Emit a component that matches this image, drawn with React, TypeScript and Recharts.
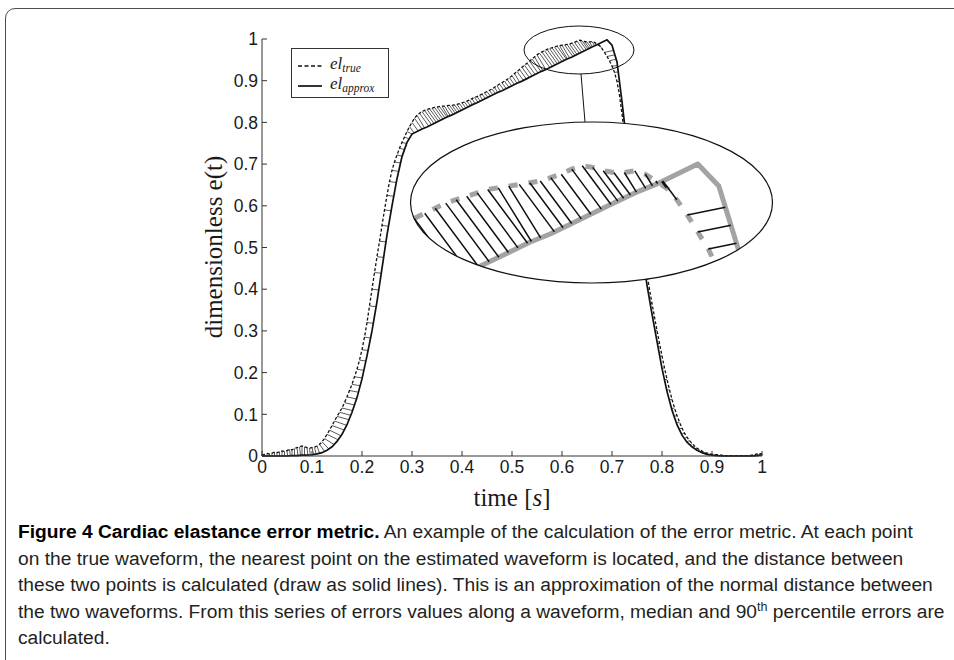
import React from "react";
import { LineChart, Line, XAxis, YAxis, Legend, Label } from "recharts";

// ==================== DATA ====================

// true elastance waveform, sampled every 0.005 s from 0 to 1
const TRUE_STEP = 0.005;
const EL_TRUE = [
  // 0.000 - 0.100
  0.003, 0.004, 0.006, 0.005, 0.007, 0.009, 0.008, 0.01, 0.012, 0.011, 0.013,
  0.016, 0.015, 0.018, 0.02, 0.022, 0.024, 0.022, 0.02, 0.019, 0.02,
  // 0.105 - 0.300
  0.021, 0.024, 0.028, 0.034, 0.042, 0.052, 0.062, 0.073, 0.084, 0.095,
  0.105, 0.115, 0.128, 0.142, 0.157, 0.172, 0.19, 0.208, 0.23, 0.255,
  0.285, 0.32, 0.36, 0.4, 0.44, 0.478, 0.515, 0.553, 0.59, 0.625,
  0.658, 0.685, 0.705, 0.722, 0.738, 0.752, 0.765, 0.778, 0.79, 0.8,
  // 0.305 - 0.700
  0.81, 0.817, 0.822, 0.826, 0.829, 0.831, 0.833, 0.834, 0.836, 0.837,
  0.838, 0.839, 0.839, 0.84, 0.841, 0.841, 0.842, 0.843, 0.845, 0.847,
  0.849, 0.851, 0.854, 0.857, 0.86, 0.862, 0.865, 0.868, 0.871, 0.874,
  0.877, 0.88, 0.884, 0.888, 0.892, 0.895, 0.899, 0.903, 0.907, 0.912,
  0.917, 0.922, 0.927, 0.932, 0.937, 0.942, 0.947, 0.952, 0.957, 0.962,
  0.966, 0.969, 0.972, 0.975, 0.977, 0.979, 0.981, 0.983, 0.984, 0.985,
  0.986, 0.987, 0.988, 0.99, 0.992, 0.995, 0.997, 0.996, 0.994, 0.993,
  0.993, 0.994, 0.992, 0.988, 0.984, 0.977, 0.968, 0.958, 0.948, 0.935,
  // 0.705 - 1.000
  0.92, 0.898, 0.865, 0.82, 0.77, 0.725, 0.688, 0.65, 0.612, 0.575,
  0.54, 0.505, 0.47, 0.435, 0.4, 0.366, 0.333, 0.301, 0.27, 0.24,
  0.211, 0.184, 0.159, 0.136, 0.115, 0.097, 0.081, 0.067, 0.055, 0.045,
  0.037, 0.03, 0.024, 0.019, 0.015, 0.012, 0.009, 0.007, 0.005, 0.004,
  0.003, 0.003, 0.002, 0.002, 0.001, 0.001, 0.001, 0.001, 0.001, 0.001,
  0.001, 0.001, 0.001, 0.001, 0.001, 0.002, 0.003, 0.005, 0.006, 0.005,
];

// approximated waveform, sampled every 0.01 s from 0 to 1
const APPROX_STEP = 0.01;
const EL_APPROX = [
  // 0.00 - 0.30
  0, 0, 0, 0, 0, 0, 0.001, 0.001, 0.002, 0.002,
  0.003, 0.005, 0.008, 0.014, 0.022, 0.035, 0.052, 0.075, 0.105, 0.14,
  0.185, 0.24, 0.3, 0.37, 0.45, 0.53, 0.6, 0.665, 0.718, 0.752,
  0.772,
  // 0.31 - 0.69
  0.778, 0.784, 0.789, 0.795, 0.801, 0.807, 0.813, 0.818, 0.824, 0.83,
  0.836, 0.842, 0.847, 0.853, 0.859, 0.865, 0.871, 0.876, 0.882, 0.888,
  0.894, 0.899, 0.905, 0.911, 0.917, 0.923, 0.928, 0.934, 0.94, 0.946,
  0.952, 0.957, 0.963, 0.969, 0.975, 0.981, 0.986, 0.992, 0.998,
  // 0.70 - 1.00
  0.985, 0.945, 0.85, 0.745, 0.655, 0.57, 0.49, 0.41, 0.34, 0.275,
  0.21, 0.155, 0.11, 0.075, 0.05, 0.033, 0.022, 0.014, 0.008, 0.004,
  0.002, 0.001, 0, 0, 0, 0, 0, 0, 0, 0.001,
  0.003,
];

const AXIS_TICKS = [0, 0.1, 0.2, 0.3, 0.4, 0.5, 0.6, 0.7, 0.8, 0.9, 1];

// zoomed region shown in the big ellipse
const INSET_X_DOMAIN = [0.553, 0.7258];
const INSET_Y_DOMAIN = [0.928, 1.0227];

const LEGEND_ORDER = ["el_true", "el_approx"];

const CAPTION_TITLE = "Figure 4 Cardiac elastance error metric.";
const CAPTION_LINES = [
  " An example of the calculation of the error metric. At each point",
  "on the true waveform, the nearest point on the estimated waveform is located, and the distance between",
  "these two points is calculated (draw as solid lines). This is an approximation of the normal distance between",
  "the two waveforms. From this series of errors values along a waveform, median and 90|th| percentile errors are",
  "calculated.",
];

// ==================== HELPERS ====================

type Pt = { t: number; v: number | null };

const SANS = "'Liberation Sans', Arial, Helvetica, sans-serif";
const SERIF = "'Liberation Serif', 'DejaVu Serif', 'Times New Roman', serif";

const trueData: Pt[] = EL_TRUE.map((v, i) => ({
  t: Math.round(i * TRUE_STEP * 1000) / 1000,
  v,
}));
const approxData: Pt[] = EL_APPROX.map((v, i) => ({
  t: Math.round(i * APPROX_STEP * 100) / 100,
  v,
}));

// nearest point on the approx polyline for a given true sample
const nearestOnApprox = (x: number, y: number) => {
  let best = { t: approxData[0].t, v: approxData[0].v as number, d: Infinity };
  for (let i = 0; i < approxData.length - 1; i++) {
    const ax = approxData[i].t;
    const ay = approxData[i].v as number;
    const bx = approxData[i + 1].t;
    const by = approxData[i + 1].v as number;
    const dx = bx - ax;
    const dy = by - ay;
    let u = ((x - ax) * dx + (y - ay) * dy) / (dx * dx + dy * dy);
    u = Math.max(0, Math.min(1, u));
    const qx = ax + u * dx;
    const qy = ay + u * dy;
    const d = (x - qx) ** 2 + (y - qy) ** 2;
    if (d < best.d) best = { t: qx, v: qy, d };
  }
  return best;
};

// error segments, separated by null gaps
const errorData: Pt[] = trueData.flatMap((p) => {
  const q = nearestOnApprox(p.t, p.v as number);
  return [
    { t: p.t, v: p.v },
    { t: q.t, v: q.v },
    { t: q.t, v: null },
  ];
});

const fmtTick = (v: number) => String(v);

// ==================== LABELS / LEGEND ====================

const XLabel = (props: any) => {
  const vb = props.viewBox || { x: 262, y: 456, width: 500 };
  return (
    <text
      x={vb.x + vb.width / 2}
      y={vb.y + 50}
      textAnchor="middle"
      fontFamily={SERIF}
      fontSize={25}
      fill="#1a1a1a"
    >
      time [<tspan fontStyle="italic">s</tspan>]
    </text>
  );
};

const YLabel = () => (
  <text
    transform="translate(222, 247) rotate(-90)"
    textAnchor="middle"
    fontFamily={SERIF}
    fontSize={25}
    fill="#1a1a1a"
  >
    dimensionless e(t)
  </text>
);

const LegendBox = ({ payload }: any) => {
  const items = (payload || [])
    .filter((e: any) => LEGEND_ORDER.includes(String(e.value)))
    .sort(
      (a: any, b: any) =>
        LEGEND_ORDER.indexOf(String(a.value)) - LEGEND_ORDER.indexOf(String(b.value))
    );
  return (
    <div
      style={{
        width: 96,
        height: 48,
        border: "1px solid #333",
        background: "#fff",
        position: "relative",
      }}
    >
      {items.map((entry: any, i: number) => {
        const [base, sub] = String(entry.value).split("_");
        return (
          <div
            key={entry.value}
            style={{
              position: "absolute",
              left: 5,
              top: 8 + i * 20,
              height: 18,
              display: "flex",
              alignItems: "center",
            }}
          >
            <svg width={26} height={18}>
              <line
                x1={1}
                y1={9}
                x2={25}
                y2={9}
                stroke="#111"
                strokeWidth={1.7}
                strokeDasharray={entry.payload?.strokeDasharray ? "4 2.5" : undefined}
              />
            </svg>
            <span
              style={{
                fontFamily: SERIF,
                fontStyle: "italic",
                fontSize: 17,
                marginLeft: 7,
                lineHeight: "18px",
                color: "#1a1a1a",
              }}
            >
              {base}
              <sub style={{ fontSize: 11.5, verticalAlign: "-3px" }}>{sub}</sub>
            </span>
          </div>
        );
      })}
    </div>
  );
};

// ==================== APP ====================

export default function App() {
  return (
    <div
      style={{
        position: "absolute",
        left: 0,
        top: 0,
        width: 954,
        height: 660,
        overflow: "hidden",
        background: "#fff",
      }}
    >
      {/* figure frame */}
      <div
        style={{
          position: "absolute",
          left: 5,
          top: 8,
          width: 1000,
          height: 700,
          border: "1.5px solid #4d4d4d",
          borderRadius: 10,
        }}
      />

      {/* main chart */}
      <div style={{ position: "absolute", left: 0, top: 0 }}>
        <LineChart
          width={954}
          height={660}
          margin={{ top: 39, right: 192, bottom: 174, left: 202 }}
        >
          <XAxis
            type="number"
            dataKey="t"
            domain={[0, 1]}
            ticks={AXIS_TICKS}
            tickFormatter={fmtTick}
            height={30}
            tickSize={-5}
            tickMargin={10}
            stroke="#333"
            tick={{ fill: "#1a1a1a", fontSize: 17.5, fontFamily: SANS }}
          >
            <Label content={XLabel} />
          </XAxis>
          <YAxis
            type="number"
            domain={[0, 1]}
            ticks={AXIS_TICKS}
            tickFormatter={fmtTick}
            width={60}
            tickSize={-5}
            tickMargin={9}
            stroke="#333"
            tick={{ fill: "#1a1a1a", fontSize: 17.5, fontFamily: SANS }}
          >
            <Label content={YLabel} />
          </YAxis>
          <Legend
            layout="horizontal"
            verticalAlign="middle"
            align="center"
            content={LegendBox}
            wrapperStyle={{ left: 291, top: 48, width: 98, height: 50 }}
          />
          <Line
            data={errorData}
            dataKey="v"
            name="error"
            legendType="none"
            stroke="#111"
            strokeWidth={0.7}
            dot={false}
            activeDot={false}
            isAnimationActive={false}
          />
          <Line
            data={trueData}
            dataKey="v"
            name="el_true"
            stroke="#111"
            strokeWidth={1.3}
            strokeDasharray="3 2"
            dot={false}
            activeDot={false}
            isAnimationActive={false}
          />
          <Line
            data={approxData}
            dataKey="v"
            name="el_approx"
            stroke="#111"
            strokeWidth={1.7}
            dot={false}
            activeDot={false}
            isAnimationActive={false}
          />
        </LineChart>
      </div>

      {/* big ellipse background */}
      <div
        style={{
          position: "absolute",
          left: 410,
          top: 122,
          width: 363,
          height: 161,
          borderRadius: "50%",
          background: "#fff",
        }}
      />

      {/* magnified inset */}
      <div
        style={{
          position: "absolute",
          left: 410,
          top: 122,
          width: 363,
          height: 161,
          clipPath: "ellipse(50% 50% at 50% 50%)",
        }}
      >
        <LineChart
          width={363}
          height={161}
          margin={{ top: 0, right: 0, bottom: 0, left: 0 }}
        >
          <XAxis
            type="number"
            dataKey="t"
            domain={INSET_X_DOMAIN}
            allowDataOverflow
            hide
          />
          <YAxis type="number" domain={INSET_Y_DOMAIN} allowDataOverflow hide />
          <Line
            data={approxData}
            dataKey="v"
            stroke="#a3a3a3"
            strokeWidth={5}
            strokeLinejoin="round"
            dot={false}
            activeDot={false}
            isAnimationActive={false}
          />
          <Line
            data={trueData}
            dataKey="v"
            stroke="#a3a3a3"
            strokeWidth={5}
            strokeDasharray="9 11"
            dot={false}
            activeDot={false}
            isAnimationActive={false}
          />
          <Line
            data={errorData}
            dataKey="v"
            stroke="#111"
            strokeWidth={1.5}
            dot={false}
            activeDot={false}
            isAnimationActive={false}
          />
        </LineChart>
      </div>

      {/* ellipse outlines and connector */}
      <svg
        width={954}
        height={660}
        style={{ position: "absolute", left: 0, top: 0, pointerEvents: "none" }}
      >
        <ellipse cx={591.5} cy={202.5} rx={181} ry={80.5} fill="none" stroke="#111" strokeWidth={1.2} />
        <ellipse cx={579} cy={50} rx={55} ry={24} fill="none" stroke="#111" strokeWidth={1} />
        <line x1={581} y1={74} x2={585} y2={122} stroke="#111" strokeWidth={1} />
      </svg>

      {/* caption */}
      <div
        style={{
          position: "absolute",
          left: 18,
          top: 519,
          fontFamily: SANS,
          fontSize: 19.2,
          lineHeight: "26.5px",
          color: "#231f20",
          whiteSpace: "nowrap",
        }}
      >
        {CAPTION_LINES.map((line, i) => {
          const parts = line.split("|");
          return (
            <div key={i}>
              {i === 0 && (
                <span style={{ fontWeight: 700, color: "#000" }}>{CAPTION_TITLE}</span>
              )}
              {parts.length === 3 ? (
                <>
                  {parts[0]}
                  <sup style={{ fontSize: 12.5, lineHeight: 0 }}>{parts[1]}</sup>
                  {parts[2]}
                </>
              ) : (
                line
              )}
            </div>
          );
        })}
      </div>
    </div>
  );
}
